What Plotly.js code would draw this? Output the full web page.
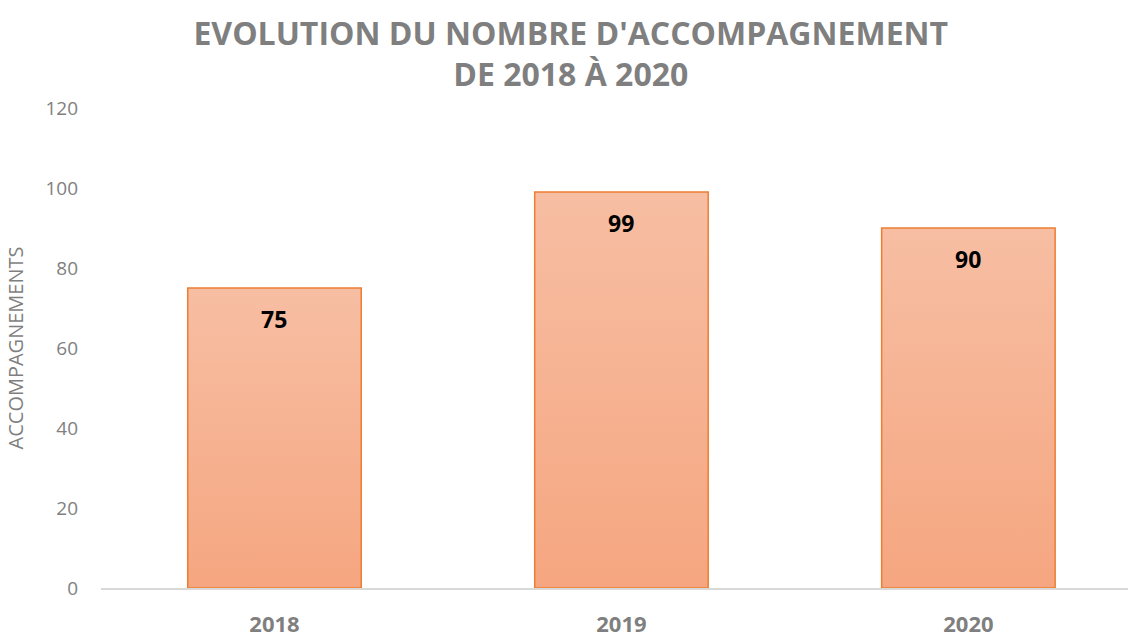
<!DOCTYPE html>
<html><head><meta charset="utf-8">
<script src="https://cdn.plot.ly/plotly-3.0.1.min.js"></script>
<style>body{margin:0;background:#fff}</style>
</head><body>
<div id="chart" style="width:1128px;height:637px"></div>
<script>
const years = ['2018', '2019', '2020'];
const accompagnements = [75, 99, 90];
const yTicks = [0, 20, 40, 60, 80, 100, 120];

const FONT = 'Open Sans, sans-serif';
const gray = '#7f7f7f';
const trace = {
  type: 'bar', x: years, y: accompagnements, width: 0.5,
  marker: {color: '#F5B293', line: {color: '#ED7D31', width: 1.5}},
  hoverinfo: 'x+y'
};
const annotations = years.map((yr, i) => ({
  x: i, y: accompagnements[i], xref: 'x', yref: 'y',
  text: '<b>' + accompagnements[i] + '</b>', showarrow: false,
  yanchor: 'middle', yshift: -31,
  font: {family: FONT, size: 23, color: '#000'}
}));
const layout = {
  width: 1128, height: 637,
  margin: {l: 101, r: 0, t: 108, b: 49},
  paper_bgcolor: '#fff', plot_bgcolor: '#fff',
  showlegend: false,
  font: {family: FONT, color: gray},
  title: {
    text: "<b>EVOLUTION DU NOMBRE D'ACCOMPAGNEMENT<br>DE 2018 À 2020</b>",
    font: {family: FONT, size: 32, color: gray},
    x: 0.506, xanchor: 'center', xref: 'container', y: 0.93, yref: 'container', yanchor: 'middle'
  },
  xaxis: {
    type: 'category', range: [-0.5, 2.46],
    showline: true, linecolor: '#d9d9d9', linewidth: 1.5,
    ticks: '', showgrid: false, zeroline: false,
    tickfont: {family: FONT, size: 22, color: gray},
    ticklabelstandoff: 16,
    tickvals: years, ticktext: years.map(y => '<b>' + y + '</b>')
  },
  yaxis: {
    range: [0, 120], tickvals: yTicks, showgrid: false, zeroline: false,
    showline: false, ticks: '',
    tickfont: {family: FONT, size: 19, color: gray},
    ticklabelstandoff: 22,
    title: {text: 'ACCOMPAGNEMENTS', standoff: 16,
      font: {family: FONT, size: 20, color: gray}}
  },
  annotations: annotations
};
Plotly.newPlot('chart', [trace], layout, {displayModeBar: false, staticPlot: true}).then(gd => {
  const svg = gd.querySelector('svg.main-svg');
  const ns = 'http://www.w3.org/2000/svg';
  let defs = svg.querySelector('defs');
  if (!defs) { defs = document.createElementNS(ns, 'defs'); svg.insertBefore(defs, svg.firstChild); }
  const grad = document.createElementNS(ns, 'linearGradient');
  grad.setAttribute('id', 'barGrad');
  grad.setAttribute('x1', '0'); grad.setAttribute('y1', '0');
  grad.setAttribute('x2', '0'); grad.setAttribute('y2', '1');
  [['0', '#F7BEA3'], ['1', '#F5A680']].forEach(([o, c]) => {
    const s = document.createElementNS(ns, 'stop');
    s.setAttribute('offset', o); s.setAttribute('stop-color', c);
    grad.appendChild(s);
  });
  defs.appendChild(grad);
  gd.querySelectorAll('.bars .point path').forEach(p => { p.style.fill = 'url(#barGrad)'; });
});
</script>
</body></html>
